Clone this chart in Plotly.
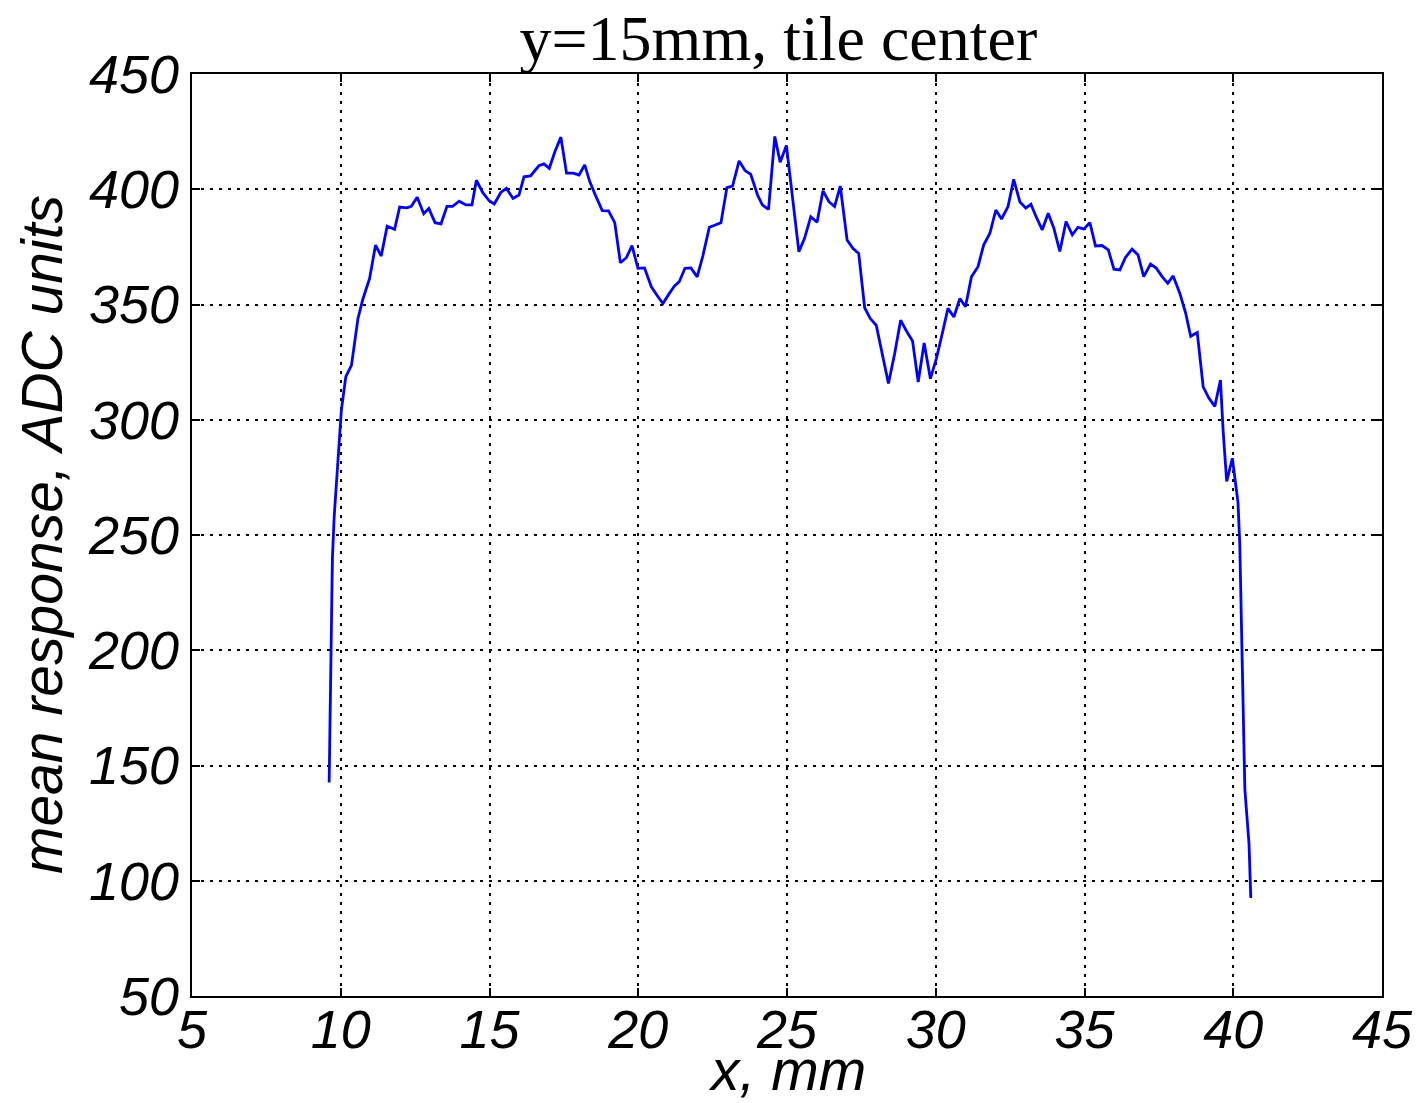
import plotly.graph_objects as go

x_mm = [9.61, 9.66, 9.72, 9.78, 9.85, 9.94, 10.02, 10.17, 10.36, 10.58, 10.75, 10.97, 11.17, 11.36, 11.56,
        11.81, 11.98, 12.22, 12.37, 12.57, 12.79, 12.96, 13.17, 13.37, 13.57, 13.76, 13.98, 14.21, 14.41,
        14.56, 14.77, 14.99, 15.16, 15.38, 15.57, 15.79, 15.99, 16.16, 16.38, 16.66, 16.83, 17.01, 17.2,
        17.4, 17.59, 17.81, 18.01, 18.2, 18.37, 18.57, 18.79, 19.0, 19.21, 19.4, 19.6, 19.79, 19.99, 20.21,
        20.44, 20.63, 20.83, 21.03, 21.22, 21.38, 21.57, 21.77, 21.98, 22.17, 22.39, 22.59, 22.78, 22.98,
        23.17, 23.39, 23.59, 23.78, 24.01, 24.17, 24.38, 24.59, 24.77, 24.98, 25.2, 25.4, 25.59, 25.8,
        26.01, 26.21, 26.41, 26.6, 26.79, 27.02, 27.22, 27.41, 27.61, 27.8, 28.0, 28.21, 28.41, 28.62,
        28.82, 29.01, 29.22, 29.41, 29.61, 29.82, 30.02, 30.22, 30.41, 30.61, 30.81, 31.0, 31.2, 31.42,
        31.61, 31.82, 32.02, 32.21, 32.43, 32.62, 32.83, 33.03, 33.2, 33.37, 33.58, 33.78, 33.97, 34.17,
        34.38, 34.59, 34.78, 34.98, 35.18, 35.37, 35.59, 35.8, 35.99, 36.19, 36.38, 36.6, 36.8, 36.99,
        37.22, 37.41, 37.61, 37.8, 37.98, 38.2, 38.4, 38.57, 38.79, 38.99, 39.18, 39.38, 39.57, 39.66,
        39.78, 39.97, 40.16, 40.22, 40.3, 40.39, 40.53, 40.59]
response = [142.6, 190, 240, 258, 272, 290.7, 304, 318.7, 323.6, 344, 352.6, 361.3, 375.8, 371, 384,
            382.6, 392.3, 391.9, 392.6, 396.5, 389.4, 391.7, 385.5, 385, 392.6, 392.6, 394.8, 393.2, 393.2,
            403.9, 398.6, 395, 393.6, 398.6, 400.4, 396, 397.5, 405.4, 405.8, 410.2, 411, 409.1, 416.4,
            422.6, 407, 407, 406.2, 410.6, 403.3, 397.1, 390.7, 390.6, 385.5, 368.1, 370.3, 375.5, 365.7, 365.9,
            357.7, 354, 350.4, 354.5, 358.1, 359.9, 365.7, 365.9, 362, 371, 383.5, 384.5, 385.5, 400.7,
            401.4, 412.3, 408.1, 406.5, 397.5, 393.2, 391.3, 422.9, 411.7, 419, 395.4, 372.9, 378.7, 388.1,
            385.7, 399.3, 394.6, 392.5, 401.4, 378, 374.3, 372.2, 348.6, 343.9, 341, 328, 315.7, 328.7,
            343.2, 338.6, 334.2, 316.4, 333.3, 317.8, 326.5, 337.4, 348.3, 344.6, 352.6, 349, 362, 366.4,
            375.8, 380.9, 391, 387.1, 392.5, 404.3, 394.5, 391.8, 393.5, 388.2, 382.4, 389.6, 383.1, 373,
            386, 380.2, 383.5, 382.8, 385.5, 375.4, 375.6, 373.7, 365.3, 365, 370.5, 374, 371.5, 362.1,
            367.5, 365.8, 362.1, 359.2, 362.4, 355, 346.3, 336.2, 337.8, 314.3, 309.4, 305.8, 317.2, 295.2,
            273.2, 283.3, 264.1, 245.8, 191, 139.8, 116, 92.5]

x_ticks = [5, 10, 15, 20, 25, 30, 35, 40, 45]
y_ticks = [50, 100, 150, 200, 250, 300, 350, 400, 450]

title_text = "y=15mm, tile center"
x_title = "x, mm"
y_title = "mean response, ADC units"

fig = go.Figure()
fig.add_trace(go.Scatter(x=x_mm, y=response, mode="lines",
                         line=dict(color="#0000ff", width=2.8), showlegend=False))

tickfont = dict(family="Liberation Sans", size=54, color="black", style="italic")
titlefont = dict(family="Liberation Sans", size=57, color="black", style="italic")
axis_common = dict(
    showline=True, linecolor="black", linewidth=2.2, mirror="ticks",
    ticks="inside", ticklen=8, tickwidth=1.5, tickcolor="black",
    showgrid=True, gridcolor="black", gridwidth=1.6, griddash="3px,6px",
    zeroline=False, tickfont=tickfont, automargin=False,
)

fig.update_xaxes(range=[5, 45], tickvals=x_ticks, ticktext=[str(v) for v in x_ticks],
                 ticklabelstandoff=-15, **axis_common)
fig.update_yaxes(range=[50, 450], tickvals=y_ticks, ticktext=[str(v) for v in y_ticks],
                 **axis_common)

fig.add_annotation(text=x_title, xref="paper", yref="paper", x=0.5, y=-0.08,
                   xanchor="center", yanchor="middle", showarrow=False, font=titlefont)
fig.add_annotation(text=y_title, xref="paper", yref="paper", x=-0.126, y=0.5,
                   xanchor="center", yanchor="middle", textangle=-90, showarrow=False, font=titlefont)

fig.update_layout(
    width=1423, height=1103,
    margin=dict(l=192, r=41, t=74, b=107, pad=0),
    paper_bgcolor="white", plot_bgcolor="white",
    title=dict(text=title_text, x=0.547, xanchor="center", y=0.966, yanchor="middle",
               font=dict(family="Liberation Serif", size=64, color="black")),
)

fig.write_html("out.html")
